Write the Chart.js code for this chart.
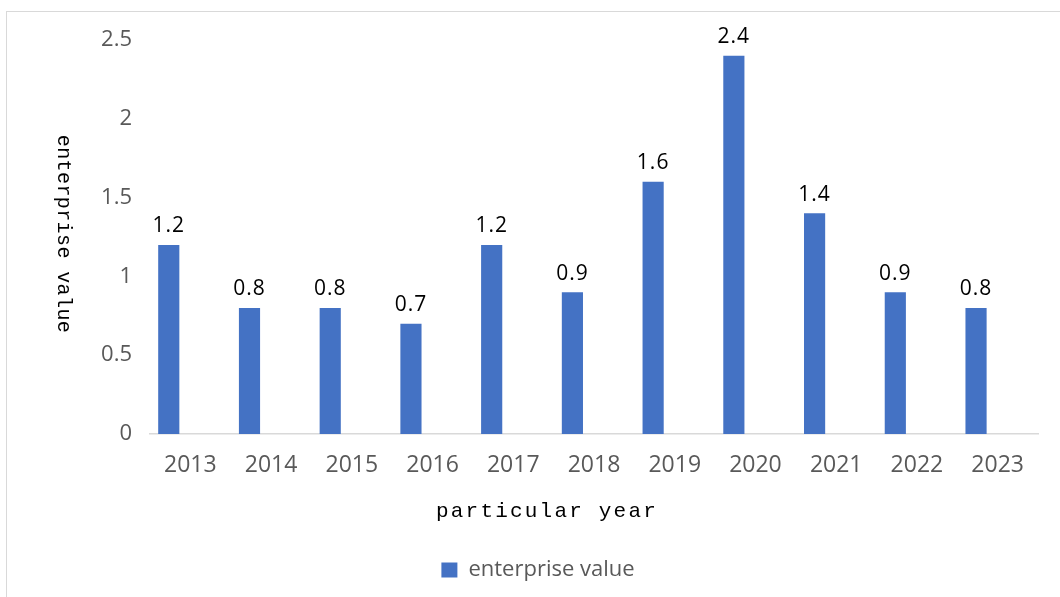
<!DOCTYPE html>
<html>
<head>
<meta charset="utf-8">
<script src="https://cdn.jsdelivr.net/npm/chart.js@4"></script>
<style>
html,body{margin:0;padding:0;background:#fff;}
#wrap{position:relative;width:1060px;height:597px;}
</style>
</head>
<body>
<div id="wrap"><canvas id="c" width="1060" height="597"></canvas></div>
<script>
const categories = ['2013','2014','2015','2016','2017','2018','2019','2020','2021','2022','2023'];
const enterpriseValues = [1.2, 0.8, 0.8, 0.7, 1.2, 0.9, 1.6, 2.4, 1.4, 0.9, 0.8];
const yTickValues = [0, 0.5, 1, 1.5, 2, 2.5];
const yTickLabels = ['0', '0.5', '1', '1.5', '2', '2.5'];
const seriesName = 'enterprise value';
const xTitle = 'particular year';
const yTitle = 'enterprise value';
const spacer = categories.map(() => null);

const frame = {
  id: 'frame',
  beforeDraw(chart) {
    const ctx = chart.ctx;
    ctx.save();
    ctx.fillStyle = '#ffffff';
    ctx.fillRect(0, 0, chart.width, chart.height);
    ctx.strokeStyle = '#d9d9d9';
    ctx.lineWidth = 1;
    ctx.strokeRect(6.5, 11.5, chart.width + 20, chart.height + 20);
    ctx.restore();
  }
};

const titles = {
  id: 'titles',
  afterDraw(chart) {
    const ctx = chart.ctx;
    const area = chart.chartArea;
    ctx.save();
    ctx.fillStyle = '#000000';
    ctx.font = '21px "Liberation Mono"';
    ctx.letterSpacing = '2.2px';
    ctx.textAlign = 'center';
    ctx.textBaseline = 'alphabetic';
    ctx.fillText(xTitle, 547, 517);
    ctx.restore();

    ctx.save();
    ctx.fillStyle = '#000000';
    ctx.font = '20px "Liberation Mono"';
    ctx.letterSpacing = '0.4px';
    ctx.translate(63, 234);
    ctx.rotate(Math.PI / 2);
    ctx.textAlign = 'center';
    ctx.textBaseline = 'middle';
    ctx.fillText(yTitle, 0, 0);
    ctx.restore();
  }
};

const valueLabels = {
  id: 'valueLabels',
  afterDatasetsDraw(chart) {
    const ctx = chart.ctx;
    const meta = chart.getDatasetMeta(0);
    ctx.save();
    ctx.fillStyle = '#000000';
    ctx.font = '21px "Open Sans"';
    ctx.letterSpacing = '1px';
    ctx.textAlign = 'center';
    ctx.textBaseline = 'alphabetic';
    meta.data.forEach((el, i) => {
      const v = enterpriseValues[i];
      ctx.fillText(String(v), el.x, el.y - 12.5);
    });
    ctx.restore();
  }
};

new Chart(document.getElementById('c'), {
  type: 'bar',
  data: {
    labels: categories,
    datasets: [
      {
        label: seriesName,
        data: enterpriseValues,
        backgroundColor: '#4472c4',
        borderWidth: 0,
        categoryPercentage: 1.07,
        barPercentage: 0.49
      },
      {
        label: '',
        data: spacer,
        backgroundColor: 'rgba(0,0,0,0)',
        borderWidth: 0,
        categoryPercentage: 1.07,
        barPercentage: 0.49
      }
    ]
  },
  options: {
    responsive: false,
    animation: false,
    devicePixelRatio: 1,
    layout: { padding: { top: 40, left: 38, right: 22, bottom: 6 } },
    plugins: {
      legend: {
        position: 'bottom',
        labels: {
          boxWidth: 16,
          boxHeight: 15,
          color: '#595959',
          font: { family: 'Open Sans', size: 22 },
          padding: 10,
          filter: (item) => item.datasetIndex === 0
        }
      },
      tooltip: { enabled: false }
    },
    scales: {
      x: {
        grid: { display: false, drawTicks: false },
        border: { display: true, color: '#d9d9d9', width: 1.5 },
        ticks: {
          color: '#595959',
          font: { family: 'Open Sans', size: 23 },
          padding: 18,
          maxRotation: 0,
          autoSkip: false
        },
        afterFit(axis) { axis.height = 115; }
      },
      y: {
        min: 0,
        max: 2.5,
        grid: { display: false, drawTicks: false },
        border: { display: false },
        afterBuildTicks(axis) { axis.ticks = yTickValues.map(v => ({ value: v })); },
        ticks: {
          color: '#595959',
          font: { family: 'Open Sans', size: 22 },
          padding: 18,
          callback: (value) => yTickLabels[yTickValues.indexOf(value)]
        },
        afterFit(axis) { axis.width = 112; }
      }
    }
  },
  plugins: [frame, valueLabels, titles]
});
</script>
</body>
</html>
